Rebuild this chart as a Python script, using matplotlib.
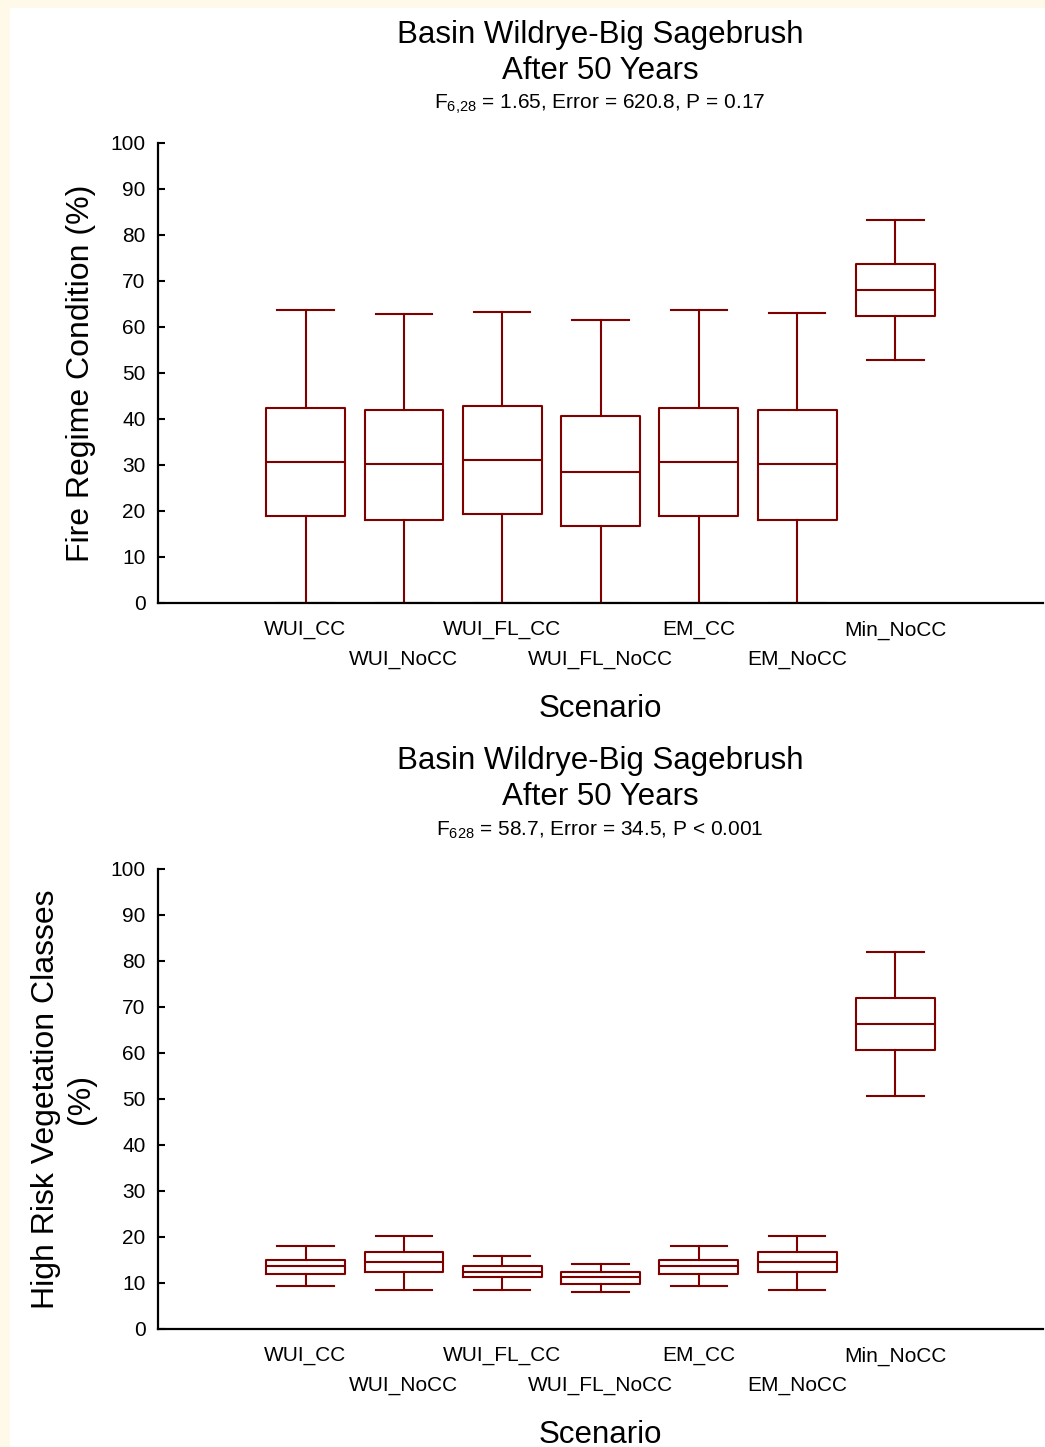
import matplotlib
matplotlib.use('Agg')
import matplotlib.pyplot as plt
from matplotlib.patches import Rectangle

plt.rcParams['font.family'] = ['Liberation Sans', 'DejaVu Sans']
plt.rcParams['mathtext.default'] = 'regular'

# scenario names shown on both x axes
scenarios = ['WUI_CC', 'WUI_NoCC', 'WUI_FL_CC', 'WUI_FL_NoCC', 'EM_CC', 'EM_NoCC', 'Min_NoCC']

# Fire Regime Condition (%) - whisker low, q1, median, q3, whisker high
frc_low = [0, 0, 0, 0, 0, 0, 52.8]
frc_q1 = [18.9, 18.0, 19.3, 16.7, 19.0, 18.0, 62.4]
frc_med = [30.7, 30.3, 31.1, 28.5, 30.7, 30.3, 68.1]
frc_q3 = [42.5, 42.0, 42.8, 40.7, 42.5, 42.0, 73.7]
frc_high = [63.7, 62.9, 63.3, 61.5, 63.8, 63.0, 83.3]

# High Risk Vegetation Classes (%)
hrv_low = [9.4, 8.5, 8.5, 8.1, 9.4, 8.5, 50.7]
hrv_q1 = [12.0, 12.5, 11.2, 9.8, 12.0, 12.5, 60.7]
hrv_med = [13.8, 14.6, 12.5, 11.2, 13.8, 14.6, 66.3]
hrv_q3 = [15.1, 16.8, 13.8, 12.5, 15.1, 16.8, 72.0]
hrv_high = [18.1, 20.3, 15.9, 14.2, 18.1, 20.3, 82.0]

title_main = 'Basin Wildrye-Big Sagebrush'
title_sub = 'After 50 Years'
stats_top = r'F$_{6{,}28}$ = 1.65, Error = 620.8, P = 0.17'
stats_bot = r'F$_{628}$ = 58.7, Error = 34.5, P < 0.001'

box_color = '#800000'
W, H = 1045, 1447

fig = plt.figure(figsize=(W / 100, H / 100), dpi=100)
fig.patch.set_facecolor('#FFF9EA')
fig.patches.append(Rectangle((10 / W, 0), 1, 1 - 8 / H, transform=fig.transFigure,
                             facecolor='white', edgecolor='none', zorder=-10))


def make_panel(top_px, lows, q1s, meds, q3s, highs, ylabel, stats_text):
    bottom_px = top_px + 460
    ax = fig.add_axes([158 / W, 1 - bottom_px / H, 885 / W, 460 / H])
    ax.set_facecolor('none')
    stats = []
    for i in range(len(scenarios)):
        stats.append({'whislo': lows[i], 'q1': q1s[i], 'med': meds[i],
                      'q3': q3s[i], 'whishi': highs[i], 'fliers': []})
    pos = list(range(1, len(scenarios) + 1))
    lp = dict(color=box_color, linewidth=1.5)
    ax.bxp(stats, positions=pos, widths=0.8, capwidths=0.57, showfliers=False,
           boxprops=lp, whiskerprops=lp, capprops=lp, medianprops=lp,
           manage_ticks=False)

    ax.set_xlim(-0.5, 8.5)
    ax.set_ylim(0, 100)
    ax.set_yticks(range(0, 101, 10))
    ax.tick_params(axis='y', direction='in', length=5, width=1.5, labelsize=15, pad=9)
    for s in ['top', 'right']:
        ax.spines[s].set_visible(False)
    for s in ['left', 'bottom']:
        ax.spines[s].set_linewidth(1.6)
        ax.spines[s].set_zorder(3)

    # staggered category labels
    ax.set_xticks(pos)
    ax.set_xticklabels(scenarios, fontsize=15)
    ax.tick_params(axis='x', length=0)
    for i, t in enumerate(ax.xaxis.get_major_ticks()):
        t.set_pad(12.5 if i % 2 == 0 else 33.5)

    ax.set_xlabel('Scenario', fontsize=22.5)
    ax.xaxis.set_label_coords(0.5, -0.197)
    ax.set_ylabel(ylabel, fontsize=23)
    ax.yaxis.set_label_coords(-0.07, 0.5)

    # titles
    fig.text(600 / W, 1 - (top_px - 108) / H, title_main, ha='center', va='center', fontsize=22.5)
    fig.text(600 / W, 1 - (top_px - 72) / H, title_sub, ha='center', va='center', fontsize=22.5)
    fig.text(600 / W, 1 - (top_px - 39) / H, stats_text, ha='center', va='center', fontsize=15)
    return ax


make_panel(143, frc_low, frc_q1, frc_med, frc_q3, frc_high,
           'Fire Regime Condition (%)', stats_top)
make_panel(869, hrv_low, hrv_q1, hrv_med, hrv_q3, hrv_high,
           'High Risk Vegetation Classes\n(%)', stats_bot)

fig.savefig('out.png', dpi=100, facecolor=fig.get_facecolor())
